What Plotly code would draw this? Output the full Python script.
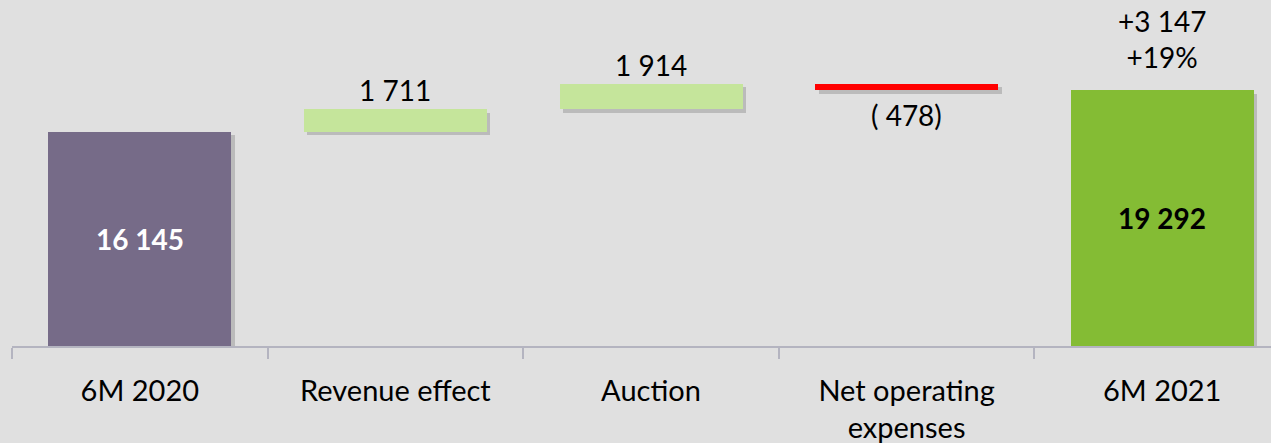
import plotly.graph_objects as go

categories = ["6M 2020", "Revenue effect", "Auction", "Net operating<br>expenses", "6M 2021"]
start_value = 16145
deltas = [1711, 1914, -478]
end_value = 19292
delta_labels = ["1 711", "1 914", "( 478)"]
start_label = "16 145"
end_label = "19 292"
change_labels = ["+3 147", "+19%"]

colors = ["#766b88", "#c5e59b", "#c5e59b", "#ff0000", "#84bc34"]

# build waterfall bases
bases = [0]
heights = [start_value]
running = start_value
for d in deltas:
    if d >= 0:
        bases.append(running)
        heights.append(d)
    else:
        bases.append(running + d)
        heights.append(-d)
    running += d
bases.append(0)
heights.append(end_value)

FONT = "Lato, Carlito, Calibri, sans-serif"
W = 0.716
px_per_cat = 255.6
units_per_px = 1 / 0.01326

fig = go.Figure()
# drop shadow
shadow_dx = 3.5 / px_per_cat
shadow_dy = 3.5 * units_per_px
fig.add_trace(go.Bar(
    x=categories, y=heights, base=[b - shadow_dy for b in bases],
    width=W, offset=-W / 2 + shadow_dx,
    marker=dict(color="rgba(80,80,80,0.26)", line=dict(width=0)),
    hoverinfo="skip", showlegend=False,
))
fig.add_trace(go.Bar(
    x=categories, y=heights, base=bases,
    width=W, offset=-W / 2,
    marker=dict(color=colors, line=dict(width=0)),
    showlegend=False,
))

annotations = []
for i, d in enumerate(deltas):
    cat = categories[i + 1]
    top = bases[i + 1] + heights[i + 1]
    bot = bases[i + 1]
    if d >= 0:
        annotations.append(dict(x=cat, y=top, text=delta_labels[i], showarrow=False,
                                yanchor="bottom", yshift=0,
                                font=dict(family=FONT, size=28, color="#000000")))
    else:
        annotations.append(dict(x=cat, y=bot, text=delta_labels[i], showarrow=False,
                                yanchor="top", yshift=-6,
                                font=dict(family=FONT, size=28, color="#000000")))
annotations.append(dict(x=categories[0], y=start_value / 2, text="<b>" + start_label + "</b>",
                        showarrow=False, yanchor="middle",
                        font=dict(family=FONT, size=28, color="#ffffff")))
annotations.append(dict(x=categories[-1], y=end_value / 2, text="<b>" + end_label + "</b>",
                        showarrow=False, yanchor="middle",
                        font=dict(family=FONT, size=28, color="#000000")))
annotations.append(dict(x=categories[-1], y=end_value, text="<br>".join(change_labels),
                        showarrow=False, yanchor="bottom", yshift=14,
                        font=dict(family=FONT, size=28, color="#000000")))

fig.update_layout(
    width=1271, height=443,
    margin=dict(l=12, r=0, t=0, b=97),
    paper_bgcolor="#e0e0e0", plot_bgcolor="#e0e0e0",
    barmode="overlay", bargap=0,
    annotations=annotations,
    xaxis=dict(
        type="category", range=[-0.5, -0.5 + 1259 / px_per_cat],
        showline=True, linecolor="#b4b4c0", linewidth=1.5,
        ticks="outside", tickson="boundaries", ticklen=11, tickcolor="#b4b4c0", tickwidth=1.5,
        showgrid=False, zeroline=False,
        tickfont=dict(family=FONT, size=29, color="#000000"),
        ticklabelstandoff=18,
    ),
    yaxis=dict(range=[0, 346 * units_per_px], visible=False, showgrid=False, zeroline=False),
)

fig.write_html(
    "out.html",
    config={"displayModeBar": False},
    post_script="document.body.style.margin='0';document.body.style.background='#e0e0e0';",
)
